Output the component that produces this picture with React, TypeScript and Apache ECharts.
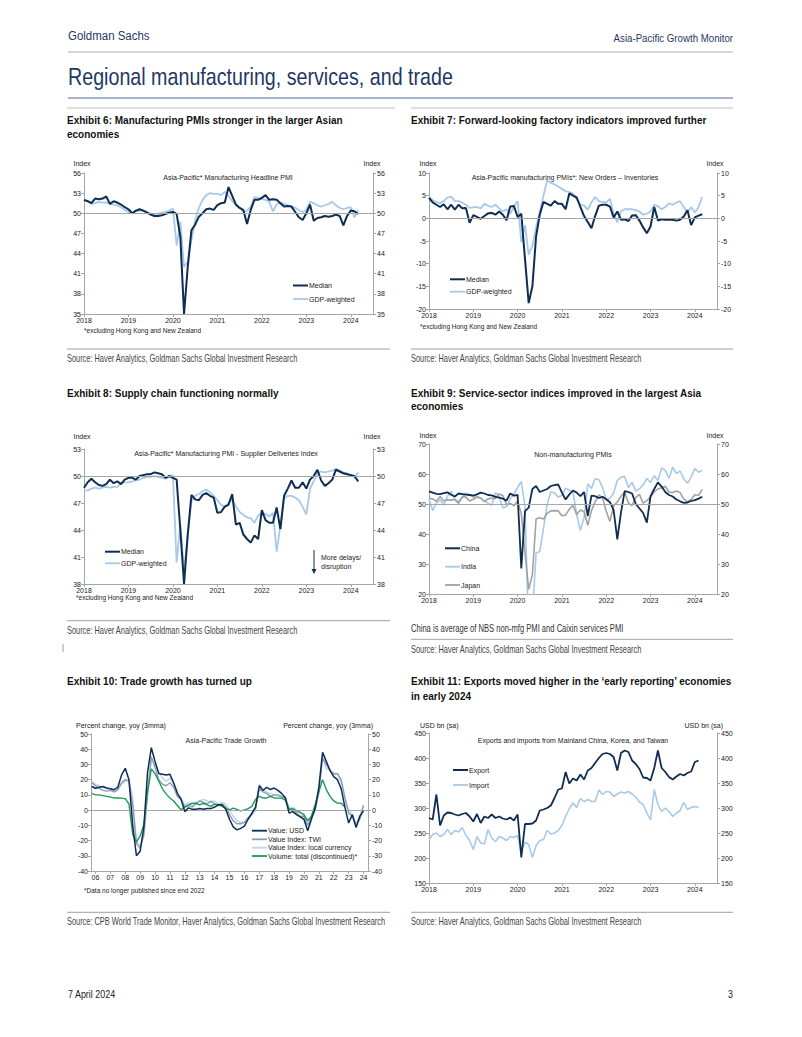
import React, { useEffect, useRef } from 'react';
import * as echarts from 'echarts';

// ---------- Tick labels ----------
const YEARS = [2018, 2019, 2020, 2021, 2022, 2023, 2024];
const TRADE_YEARS = [2006, 2007, 2008, 2009, 2010, 2011, 2012, 2013, 2014, 2015, 2016, 2017, 2018, 2019, 2020, 2021, 2022, 2023, 2024];

// ---------- Exhibit 6: Manufacturing headline PMI (monthly from Jan 2018) ----------
const ex6Median = [
  52.0, 51.8, 51.5, 52.2, 52.1, 52.2, 52.5, 51.4, 51.8, 51.6, 51.3, 50.9,
  50.6, 50.0, 50.4, 50.6, 50.4, 50.1, 49.8, 49.6, 49.6, 49.7, 49.9, 50.1,
  50.2, 49.9, 46.5, 35.0, 42.0, 47.5, 48.3, 49.5, 50.0, 50.6, 50.7, 50.5,
  51.2, 51.5, 51.6, 53.9, 52.6, 51.3, 50.8, 50.5, 48.4, 50.5, 52.0, 52.0,
  52.3, 52.7, 52.0, 52.1, 52.0, 51.5, 51.0, 51.1, 51.0, 50.2, 49.4, 49.0,
  50.0, 51.3, 48.9, 49.3, 49.4, 49.6, 49.5, 49.6, 49.8, 49.6, 48.2, 49.6,
  50.4, 50.3, 49.9,
];
const ex6Gdp = [
  52.0, 51.8, 51.4, 51.5, 51.7, 51.6, 51.6, 51.4, 51.3, 51.2, 50.9, 50.5,
  50.2, 50.0, 50.3, 50.4, 50.4, 50.2, 50.0, 49.9, 49.9, 50.1, 50.2, 50.4,
  50.7, 45.2, 48.8, 42.0, 42.8, 46.0, 49.0, 50.8, 52.0, 52.7, 53.0, 52.9,
  52.9, 52.7, 53.2, 52.6, 51.8, 51.2, 50.8, 50.2, 50.4, 51.0, 52.4, 52.3,
  52.1, 52.0, 51.7, 50.3, 51.3, 51.6, 51.4, 51.2, 51.0, 50.8, 50.5, 50.2,
  50.5, 51.7, 51.5, 51.2, 51.0, 51.2, 51.4, 51.7, 51.2, 50.8, 50.6, 50.8,
  50.9, 49.4, 50.5,
];

// ---------- Exhibit 7: New orders minus inventories ----------
const ex7Median = [
  4.5, 3.5, 3.0, 2.5, 3.1, 2.0, 3.0, 1.9, 3.0, 2.2, 2.3, -1.0,
  0.7, 0.3, -0.1, 0.5, 1.1, 1.2, 0.8, 1.5, 0.8, -0.4, 2.6, 2.7,
  0.3, 1.0, -9.0, -18.7, -15.0, -4.0, 0.8, 3.6, 3.2, 2.8, 3.8, 3.2,
  3.2, 2.0, 5.5, 5.0, 4.6, 2.5, 0.5, -0.8, -2.2, 0.5, 2.8, 3.0,
  3.0, 2.6, 0.2, 1.5, -0.3, -0.2, -0.6, 0.6, 0.7, -0.5, -2.0, -3.3,
  -1.8, 2.5, -0.5, -0.2, -0.3, -0.3, -0.3, -0.5, -0.3, 0.4, 1.8, -1.5,
  0.2, 0.6, 0.9,
];
const ex7Gdp = [
  4.8, 4.0, 3.6, 3.3, 3.8, 4.6, 4.8, 3.8, 3.8, 3.5, 3.0, 2.3,
  2.4, 2.5, 2.2, 3.2, 2.8, 2.5, 3.0, 2.2, 1.5, 2.0, 1.0, 2.6,
  3.8, -5.3, -1.5, -8.0, -6.0, -2.0, 1.5, 5.0, 8.4, 7.8, 7.5, 7.0,
  6.5, 6.0, 5.8, 5.5, 4.2, 3.0, 2.8, 1.9, 3.5, 4.7, 3.8, 3.6,
  3.5, 4.3, 1.0, -0.9, 1.5, 2.0, 2.0, 2.0, 1.8, 1.5, 0.8, 1.0,
  1.5, 3.0, 2.7, 2.0, 2.5, 3.3, 3.0, 3.5, 3.8, 2.5, 1.2, 2.5,
  1.3, 2.5, 4.7,
];

// ---------- Exhibit 8: Supplier deliveries ----------
const ex8Median = [
  48.7, 49.3, 49.7, 49.3, 49.0, 48.9, 49.1, 49.6, 49.2, 49.4, 49.1, 49.6,
  49.8, 49.8, 49.6, 50.0, 50.1, 50.2, 50.2, 50.4, 50.3, 50.2, 49.8, 50.0,
  49.8, 49.6, 44.0, 38.0, 43.5, 47.9, 47.4, 47.3, 47.9, 48.1, 47.8, 47.6,
  45.9, 46.0, 46.6, 46.8, 48.0, 44.6, 44.8, 43.5, 43.0, 42.6, 43.4, 43.0,
  46.2, 45.1, 44.8, 44.8, 46.5, 44.1, 47.8, 48.6, 49.5, 48.7, 48.7, 49.3,
  48.6, 49.6, 50.0, 50.7, 49.5, 48.9, 49.2, 49.6, 50.7, 50.5, 50.3, 50.2,
  50.1, 50.0, 49.4,
];
const ex8Gdp = [
  48.4, 48.4, 48.6, 48.7, 48.6, 48.7, 48.8, 48.7, 48.8, 48.8, 49.2, 49.3,
  49.3, 49.4, 49.5, 49.6, 49.8, 49.9, 49.9, 50.0, 49.9, 49.8, 49.7, 49.9,
  50.1, 40.4, 44.6, 39.5, 43.5, 47.2, 47.8, 48.0, 48.3, 48.5, 48.2, 47.8,
  47.3, 46.8, 46.6, 47.0, 47.4, 46.6, 46.0, 45.7, 45.4, 45.3, 44.8, 45.6,
  45.9, 45.8, 45.5, 45.9, 41.6, 44.5, 47.5, 47.8, 47.8, 47.6, 47.3, 46.6,
  45.7, 48.6, 49.4, 50.3, 50.5, 50.4, 50.5, 50.6, 50.8, 50.6, 50.4, 50.3,
  50.1, 49.8, 50.4,
];

// ---------- Exhibit 9: Non-manufacturing PMIs ----------
const ex9China = [
  54.2, 53.8, 53.4, 53.3, 53.6, 53.9, 53.1, 52.5, 53.5, 53.3, 53.1, 53.0,
  52.8, 53.2, 53.8, 53.5, 53.0, 52.9, 52.4, 52.1, 51.8, 51.1, 53.5, 52.8,
  53.0, 28.5, 47.6, 48.8, 55.0, 56.0, 54.0, 54.5, 55.0, 56.0, 56.3, 56.5,
  53.8, 51.5, 53.2, 54.5, 53.8, 52.6, 54.0, 46.0, 52.8, 52.6, 52.0, 52.4,
  51.6, 50.6, 48.0, 38.2, 47.2, 54.3, 54.0, 53.5, 50.0, 48.5, 47.0, 43.8,
  52.6, 55.0, 57.2, 55.8, 54.0, 53.0, 52.5, 51.5, 50.9, 50.4, 50.5, 51.0,
  51.3, 51.8, 52.4,
];
const ex9India = [
  51.7, 47.8, 50.3, 51.4, 49.6, 52.6, 54.2, 51.5, 50.9, 52.2, 53.7, 53.2,
  52.2, 52.5, 52.0, 51.0, 50.2, 49.6, 53.8, 52.4, 48.7, 49.2, 51.7, 53.3,
  55.5, 57.5, 49.3, 5.4, 12.6, 33.7, 34.2, 41.8, 49.8, 54.1, 53.7, 52.3,
  52.8, 55.3, 54.6, 54.0, 46.4, 41.2, 45.4, 56.7, 55.2, 58.4, 58.1, 55.5,
  51.5, 51.8, 53.6, 57.9, 58.9, 59.2, 55.5, 57.2, 54.3, 55.1, 56.4, 58.5,
  57.2, 59.4, 57.8, 62.0, 61.2, 58.5, 62.3, 60.1, 61.0, 58.4, 56.9, 59.0,
  61.8, 60.6, 61.2,
];
const ex9Japan = [
  51.9, 51.7, 50.9, 52.5, 51.0, 51.4, 51.3, 51.5, 50.2, 52.4, 52.3, 51.0,
  51.6, 52.3, 52.0, 50.8, 51.7, 51.9, 51.8, 53.3, 52.8, 49.7, 50.3, 49.4,
  51.0, 46.8, 33.8, 21.5, 26.5, 45.0, 45.4, 45.0, 46.9, 47.7, 47.8, 47.7,
  46.1, 46.3, 48.3, 49.5, 46.5, 48.0, 47.4, 42.9, 47.8, 50.7, 53.0, 52.1,
  47.6, 44.2, 49.4, 50.7, 52.6, 54.0, 50.3, 49.5, 52.2, 53.2, 50.3, 51.1,
  52.3, 54.0, 55.0, 55.4, 55.9, 54.0, 53.8, 54.3, 53.8, 51.6, 50.8, 51.5,
  53.1, 52.9, 54.9,
];

// ---------- Exhibit 10: Trade growth (quarterly points from Q4 2005) ----------
const ex10Usd = [
  15.5, 14.4, 15.0, 15.5, 14.5, 14.0, 13.4, 15.0, 23.0, 27.5,
  20.0, -10.0, -30.0, -27.0, -11.0, 25.0, 41.0, 32.0, 24.0, 23.5,
  23.0, 23.5, 18.0, 11.0, 7.0, -1.0, 1.5, 0.5, 0.5, 1.0,
  0.5, 1.0, 1.0, 2.0, 3.5, 3.5, 0.5, -6.0, -11.0, -13.0,
  -12.0, -10.5, -6.0, -2.0, 2.0, 16.0, 13.0, 15.0, 13.5, 14.5,
  13.0, 11.0, 8.0, -2.0, -1.0, -3.0, -4.5, -6.0, -13.5, -6.0,
  1.0, 15.0, 38.0, 32.0, 26.0, 22.0, 20.0, 14.0, 2.0, -8.5,
  -3.0, -11.5, -4.0, -0.5,
];
const ex10Twi = [
  18, 16, 14.5, 13, 12.5, 13, 12, 13.5, 18, 20,
  19, 3, -22, -25, -16, 12, 35, 28, 20, 17,
  16, 18, 15, 9, 7, 2, 3, 2, 4, 6,
  5, 4, 6, 4, 3, 4, 2, -3, -7, -9,
  -9, -8, -5, -3, 1, 14, 12, 11, 9, 10,
  10, 9, 8, 1, 1, -2, -4, -4, -10, -5,
  0, 12, 34, 30, 26, 24, 24, 20, 8, -2,
  -4, -10, -6, 3,
];
const ex10Local = [
  19, 17, 16, 15, 14, 14, 12, 13, 17, 19,
  20, 8, -20, -24, -17, 10, 33, 30, 25, 21,
  19, 21, 17, 11, 8, 3, 5, 3, 5, 6,
  7, 6, 5, 6, 4, 5, 4, 0, -4, -7,
  -8, -8, -6, -3, 0, 17, 13, 12, 11, 10,
  9, 8, 9, 1, 2, 0, -2, -3, -10, -4,
  2, 13, 36, 27, 27, 23, 24, 18, 8, 0,
  -3, -9, -4, 3,
];
const ex10Volume = [
  11.0, 10.0, 10.0, 9.5, 9.0, 8.5, 8.0, 8.0, 7.9, 7.5,
  4.0, -16.0, -21.0, -17.0, -9.5, 12.0, 27.0, 24.0, 19.0, 14.0,
  10.5, 8.0, 6.0, 3.0, 0.2, 2.0, 3.5, 4.5, 4.5, 3.5,
  4.5, 3.5, 2.5, 3.9, 3.5, 2.5, 1.3, 0.2, 1.3, 0.5,
  -0.5, 0.2, 1.0, 2.5, 7.0, 9.0, 8.0, 8.0, 9.0, 8.0,
  7.9, 7.9, 6.5, 0.5, 0.8, -0.5, -1.5, -3.0, -7.0, -4.0,
  3.5, 12.0, 20.0, 13.5, 9.0, 6.0, 4.6, 4.5, 2.0,
];

// ---------- Exhibit 11: Exports / imports, USD bn ----------
const ex11Export = [
  280, 277, 327, 265, 285, 291, 290, 287, 285, 288, 290, 283,
  273, 288, 270, 283, 280, 287, 280, 283, 279, 277, 281, 275,
  287, 201, 268, 268, 269, 275, 295, 297, 300, 305, 320, 337,
  339, 372, 349, 359, 355, 367, 357, 375, 380, 390, 400, 408,
  410, 408, 402, 375, 410, 415, 412, 395, 388, 378, 361, 360,
  355, 380, 415, 380, 372, 362, 357, 363, 368, 365, 370, 373,
  392, 395,
];
const ex11Import = [
  237, 247, 250, 243, 247, 257, 247, 255, 252, 261, 245, 235,
  217, 243, 230, 228, 257, 240, 233, 243, 240, 235, 243, 241,
  245, 213, 232, 227, 201, 225, 235, 237, 255, 248, 250, 255,
  265, 283, 299, 310, 301, 319, 313, 317, 313, 313, 336, 327,
  333, 332, 323, 328, 332, 330, 333, 328, 322, 312, 307, 290,
  276, 337, 307, 293, 300, 293, 283, 290, 295, 311, 297, 301,
  303, 301,
];

// ---------- helpers ----------
const monthly = (vals: number[], start = 2018) => vals.map((v, i) => [start + i / 12, v]);
const quarterly = (vals: number[], start = 2005.75) => vals.map((v, i) => [start + i * 0.25, v]);

const NAVY = '#0f2d52';
const LIGHT = '#a7c9ea';
const JAPAN = '#a2a2a2';
const TWI = '#8d9cb5';
const LOCAL = '#bcd6ef';
const GREEN = '#1f9a5a';
const AX = '#a6a6a6';
const HEAD = '#1f3864';
const SANS = "'Liberation Sans', Arial, sans-serif";

type Panel = {
  grid: { left: number; top: number; width: number; height: number };
  y: [number, number, number];
  x: [number, number];
  ticks: number[];
  fmt: (v: number) => string;
};

const yearFmt = (v: number) => String(Math.round(v));
const shortFmt = (v: number) => String(Math.round(v) % 100).padStart(2, '0');

const panels: Panel[] = [
  { grid: { left: 84, top: 173, width: 289, height: 141 }, y: [35, 56, 3], x: [2018, 2024.5], ticks: YEARS, fmt: yearFmt },
  { grid: { left: 429, top: 173, width: 288, height: 136 }, y: [-20, 10, 5], x: [2018, 2024.5], ticks: YEARS, fmt: yearFmt },
  { grid: { left: 84, top: 449, width: 289, height: 135 }, y: [38, 53, 3], x: [2018, 2024.5], ticks: YEARS, fmt: yearFmt },
  { grid: { left: 429, top: 444, width: 288, height: 150 }, y: [20, 70, 10], x: [2018, 2024.5], ticks: YEARS, fmt: yearFmt },
  { grid: { left: 91, top: 734, width: 277, height: 137 }, y: [-40, 50, 10], x: [2005.7, 2024.3], ticks: TRADE_YEARS, fmt: shortFmt },
  { grid: { left: 429, top: 733, width: 288, height: 150 }, y: [150, 450, 50], x: [2018, 2024.5], ticks: YEARS, fmt: yearFmt },
];

const refLine = (v: number) => ({
  silent: true,
  symbol: ['none', 'none'],
  label: { show: false },
  lineStyle: { color: AX, width: 1, type: 'solid' },
  data: [{ yAxis: v }],
});

function line(p: number, name: string, data: number[][], color: string, width: number, z: number, mark?: number) {
  const s: any = {
    type: 'line',
    name,
    xAxisIndex: p,
    yAxisIndex: p * 2,
    data,
    symbol: 'none',
    showSymbol: false,
    clip: true,
    lineStyle: { color, width },
    itemStyle: { color },
    z,
  };
  if (mark !== undefined) s.markLine = refLine(mark);
  return s;
}

// text element; sx compresses horizontally (condensed look) around the anchor
function txt(x: number, y: number, text: string, size: number, o: any = {}) {
  const align = o.align || 'left';
  return {
    type: 'text',
    x,
    y,
    scaleX: o.sx || 1,
    silent: true,
    z: 100,
    style: {
      text,
      fontSize: size,
      fontFamily: SANS,
      fontWeight: o.weight || 'normal',
      fill: o.color || '#222',
      align,
      textAlign: align,
      verticalAlign: 'middle',
      textVerticalAlign: 'middle',
    },
  };
}
function hl(x1: number, x2: number, y: number, color: string, w = 1) {
  return { type: 'line', silent: true, shape: { x1, y1: y, x2, y2: y }, style: { stroke: color, lineWidth: w } };
}
function legendItem(x: number, y: number, label: string, color: string, w: number) {
  return [hl(x, x + 15, y, color, w), txt(x + 16, y, label, 7)];
}
const HT = { sx: 0.87, weight: 'bold', color: '#111' };
const SRC = { sx: 0.74, color: '#444' };

function buildOption() {
  const grid = panels.map((p) => ({ ...p.grid, containLabel: false }));
  const xAxis = panels.map((p, i) => ({
    gridIndex: i,
    type: 'value',
    min: p.x[0],
    max: p.x[1],
    axisLine: { show: true, onZero: false, lineStyle: { color: AX, width: 1 } },
    axisTick: { show: true, length: 3, customValues: p.ticks, lineStyle: { color: AX } },
    axisLabel: { customValues: p.ticks, formatter: p.fmt, fontSize: 7, color: '#222', margin: 3, fontFamily: SANS },
    splitLine: { show: false },
  }));
  const yAxis: any[] = [];
  panels.forEach((p, i) => {
    ['left', 'right'].forEach((pos) => {
      yAxis.push({
        gridIndex: i,
        type: 'value',
        position: pos,
        min: p.y[0],
        max: p.y[1],
        interval: p.y[2],
        axisLine: { show: true, onZero: false, lineStyle: { color: AX, width: 1 } },
        axisTick: { show: true, length: 3, lineStyle: { color: AX } },
        axisLabel: { fontSize: 7, color: '#222', margin: pos === 'left' ? 3 : 4, fontFamily: SANS },
        splitLine: { show: false },
      });
    });
  });

  const series = [
    line(0, 'GDP-weighted', monthly(ex6Gdp), LIGHT, 1.8, 2, 50),
    line(0, 'Median', monthly(ex6Median), NAVY, 2, 3),
    line(1, 'GDP-weighted', monthly(ex7Gdp), LIGHT, 1.8, 2, 0),
    line(1, 'Median', monthly(ex7Median), NAVY, 2, 3),
    line(2, 'GDP-weighted', monthly(ex8Gdp), LIGHT, 1.8, 2, 50),
    line(2, 'Median', monthly(ex8Median), NAVY, 2, 3),
    line(3, 'India', monthly(ex9India), LIGHT, 1.6, 2, 50),
    line(3, 'Japan', monthly(ex9Japan), JAPAN, 1.6, 3),
    line(3, 'China', monthly(ex9China), NAVY, 1.8, 4),
    line(4, 'Value Index: local currency', quarterly(ex10Local), LOCAL, 1.4, 2, 0),
    line(4, 'Value Index: TWI', quarterly(ex10Twi), TWI, 1.4, 3),
    line(4, 'Volume: total (discontinued)*', quarterly(ex10Volume), GREEN, 1.4, 4),
    line(4, 'Value: USD', quarterly(ex10Usd), NAVY, 1.5, 5),
    line(5, 'Import', monthly(ex11Import), LIGHT, 1.6, 2),
    line(5, 'Export', monthly(ex11Export), NAVY, 1.8, 3),
  ];

  const src = 'Source: Haver Analytics, Goldman Sachs Global Investment Research';
  const g: any[] = [
    // page header
    txt(68, 36, 'Goldman Sachs', 13.5, { sx: 0.85, color: HEAD }),
    txt(733, 38, 'Asia-Pacific Growth Monitor', 11, { sx: 0.88, color: HEAD, align: 'right' }),
    hl(68, 733, 52, '#b0b0b0'),
    txt(68, 77, 'Regional manufacturing, services, and trade', 24, { sx: 0.82, color: HEAD }),
    hl(68, 733, 98, '#4f6b8f'),
    hl(67, 395, 108, '#c0c0c0'),
    hl(411, 733, 108, '#c0c0c0'),

    // exhibit titles
    txt(67, 120, 'Exhibit 6: Manufacturing PMIs stronger in the larger Asian', 11.5, HT),
    txt(67, 134, 'economies', 11.5, HT),
    txt(411, 120, 'Exhibit 7: Forward-looking factory indicators improved further', 11.5, HT),
    txt(67, 393, 'Exhibit 8: Supply chain functioning normally', 11.5, HT),
    txt(411, 393, 'Exhibit 9: Service-sector indices improved in the largest Asia', 11.5, HT),
    txt(411, 406, 'economies', 11.5, HT),
    txt(67, 681, 'Exhibit 10: Trade growth has turned up', 11.5, HT),
    txt(411, 681, 'Exhibit 11: Exports moved higher in the \u2018early reporting\u2019 economies', 11.5, HT),
    txt(411, 696, 'in early 2024', 11.5, HT),

    // Exhibit 6 internals
    txt(82, 163, 'Index', 7, { align: 'center' }),
    txt(372, 163, 'Index', 7, { align: 'center' }),
    txt(228, 177, 'Asia-Pacific* Manufacturing Headline PMI', 7, { align: 'center' }),
    ...legendItem(293, 285.5, 'Median', NAVY, 2),
    ...legendItem(293, 299, 'GDP-weighted', LIGHT, 1.8),
    txt(84, 330, '*excluding Hong Kong and New Zealand', 6.5),
    hl(67, 390, 349, '#a0a0a0'),
    txt(67, 359, src, 10, SRC),

    // Exhibit 7 internals
    txt(428, 163, 'Index', 7, { align: 'center' }),
    txt(715, 163, 'Index', 7, { align: 'center' }),
    txt(565, 177.5, 'Asia-Pacific manufacturing PMIs*: New Orders \u2013 Inventories', 7, { align: 'center' }),
    ...legendItem(450, 279.3, 'Median', NAVY, 2),
    ...legendItem(450, 291.7, 'GDP-weighted', LIGHT, 1.8),
    txt(420, 326, '*excluding Hong Kong and New Zealand', 6.5),
    hl(411, 733, 349, '#a0a0a0'),
    txt(411, 359, src, 10, SRC),

    // Exhibit 8 internals
    txt(82, 436, 'Index', 7, { align: 'center' }),
    txt(372, 436, 'Index', 7, { align: 'center' }),
    txt(226, 453.3, 'Asia-Pacific* Manufacturing PMI - Supplier Deliveries Index', 7, { align: 'center' }),
    ...legendItem(105, 551.7, 'Median', NAVY, 2),
    ...legendItem(105, 563.3, 'GDP-weighted', LIGHT, 1.8),
    { type: 'line', silent: true, shape: { x1: 314, y1: 550, x2: 314, y2: 570 }, style: { stroke: NAVY, lineWidth: 1 } },
    { type: 'polygon', silent: true, shape: { points: [[311.5, 569], [316.5, 569], [314, 574]] }, style: { fill: NAVY } },
    txt(321, 557.7, 'More delays/', 7),
    txt(321, 566.7, 'disruption', 7),
    txt(76, 597.7, '*excluding Hong Kong and New Zealand', 6.5),
    hl(67, 390, 620.7, '#a0a0a0'),
    txt(67, 631, src, 10, SRC),

    // Exhibit 9 internals
    txt(428, 435.3, 'Index', 7, { align: 'center' }),
    txt(715, 435.3, 'Index', 7, { align: 'center' }),
    txt(573, 454.7, 'Non-manufacturing PMIs', 7, { align: 'center' }),
    ...legendItem(445, 548.3, 'China', NAVY, 2),
    ...legendItem(445, 566.7, 'India', LIGHT, 1.8),
    ...legendItem(445, 585, 'Japan', JAPAN, 1.8),
    txt(411, 628.3, 'China is average of NBS non-mfg PMI and Caixin services PMI', 10, { sx: 0.76, color: '#333' }),
    hl(411, 733, 639.3, '#a0a0a0'),
    txt(411, 649.3, src, 10, SRC),

    // Exhibit 10 internals
    txt(76, 725, 'Percent change, yoy (3mma)', 7),
    txt(373, 725, 'Percent change, yoy (3mma)', 7, { align: 'right' }),
    txt(226, 740.3, 'Asia-Pacific Trade Growth', 7, { align: 'center' }),
    ...legendItem(252, 830.7, 'Value: USD', NAVY, 1.8),
    ...legendItem(252, 839.3, 'Value Index: TWI', TWI, 1.8),
    ...legendItem(252, 847.7, 'Value Index: local currency', LOCAL, 1.8),
    ...legendItem(252, 856, 'Volume: total (discontinued)*', GREEN, 1.8),
    txt(84, 890, '*Data no longer published since end 2022', 6.5),
    hl(67, 390, 912.3, '#a0a0a0'),
    txt(67, 921.7, 'Source: CPB World Trade Monitor, Haver Analytics, Goldman Sachs Global Investment Research', 10, SRC),

    // Exhibit 11 internals
    txt(420, 725.7, 'USD bn (sa)', 7),
    txt(723, 725.7, 'USD bn (sa)', 7, { align: 'right' }),
    txt(573, 740, 'Exports and imports from Mainland China, Korea, and Taiwan', 7, { align: 'center' }),
    ...legendItem(453, 770, 'Export', NAVY, 2),
    ...legendItem(453, 785, 'Import', LIGHT, 1.8),
    hl(411, 733, 912.3, '#a0a0a0'),
    txt(411, 921.7, src, 10, SRC),

    // footer
    { type: 'line', silent: true, shape: { x1: 63, y1: 644, x2: 63, y2: 652 }, style: { stroke: '#999', lineWidth: 1 } },
    txt(68, 994, '7 April 2024', 10.5, { sx: 0.85, color: '#222' }),
    txt(733, 994, '3', 10.5, { sx: 0.85, color: '#222', align: 'right' }),
  ];

  return {
    animation: false,
    backgroundColor: '#ffffff',
    textStyle: { fontFamily: SANS },
    grid,
    xAxis,
    yAxis,
    series,
    graphic: { elements: g },
  };
}

export default function App() {
  const ref = useRef<HTMLDivElement>(null);
  useEffect(() => {
    if (!ref.current) return;
    const chart = echarts.init(ref.current, null, { renderer: 'svg', width: 802, height: 1037 });
    chart.setOption(buildOption() as any);
    return () => chart.dispose();
  }, []);
  return (
    <div
      ref={ref}
      style={{ position: 'absolute', left: 0, top: 0, width: 802, height: 1037, background: '#fff' }}
    />
  );
}
